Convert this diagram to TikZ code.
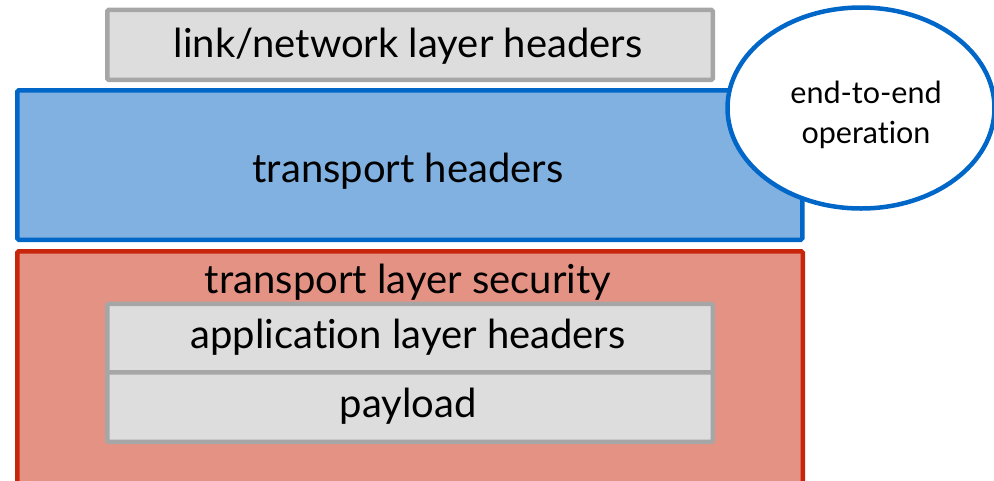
\documentclass[tikz,border=0pt]{standalone}
\usepackage{fontspec}
\setmainfont{Lato}[RawFeature=-liga]
\usetikzlibrary{shapes.geometric}
\definecolor{grayfill}{HTML}{DDDDDD}
\definecolor{grayline}{HTML}{A6A6A6}
\definecolor{bluefill}{HTML}{80B1E1}
\definecolor{blueline}{HTML}{0066C8}
\definecolor{redfill}{HTML}{E49283}
\definecolor{redline}{HTML}{C8260C}
\tikzset{
  graybox/.style={draw=grayline, fill=grayfill, line width=4.5pt, rounded corners=1.5pt, inner sep=0pt, anchor=north west},
  bluebox/.style={draw=blueline, fill=bluefill, line width=4.5pt, rounded corners=1.5pt, inner sep=0pt, anchor=north west},
  redbox/.style={draw=redline, fill=redfill, line width=4.5pt, rounded corners=1.5pt, inner sep=0pt, anchor=north west},
  bigtext/.style={font=\fontsize{40}{48}\selectfont, text=black, inner sep=0pt, anchor=base},
  bubble/.style={ellipse, draw=blueline, fill=white, line width=4.5pt, inner sep=0pt},
  bubbletext/.style={align=center, inner sep=0pt, font=\fontsize{30.5}{40}\selectfont},
}
\begin{document}
\begin{tikzpicture}[x=1pt,y=1pt]
\useasboundingbox (0,0) rectangle (994,-480);
\clip (0,0) rectangle (994,-480);
% red security box (bottom extends beyond the page)
\node[redbox, minimum width=785.5pt, minimum height=260pt] (sec) at (15,-249) {};
\node[bigtext] (secl) at (408,-293.5) {transport layer security};
% application header and payload
\node[graybox, minimum width=605.5pt, minimum height=68.5pt] (app) at (105,-301.5) {};
\node[bigtext] (appl) at (408,-348.5) {application layer headers};
\node[graybox, minimum width=605.5pt, minimum height=69.7pt] (pay) at (105,-370) {};
\node[bigtext] (payl) at (408,-417.5) {payload};
% transport headers
\node[bluebox, minimum width=785pt, minimum height=149.5pt] (tr) at (15,-88) {};
\node[bigtext] (trl) at (408,-182) {transport headers};
% link/network headers
\node[graybox, minimum width=605.5pt, minimum height=70.2pt] (link) at (105,-7.5) {};
\node[bigtext] (linkl) at (408,-57) {link/network layer headers};
% end-to-end bubble
\node[bubble, minimum width=267pt, minimum height=201pt] (e2e) at (861,-108) {};
\node[bubbletext] (e2el) at (866,-115) {end-to-end\\operation};
\end{tikzpicture}
\end{document}
